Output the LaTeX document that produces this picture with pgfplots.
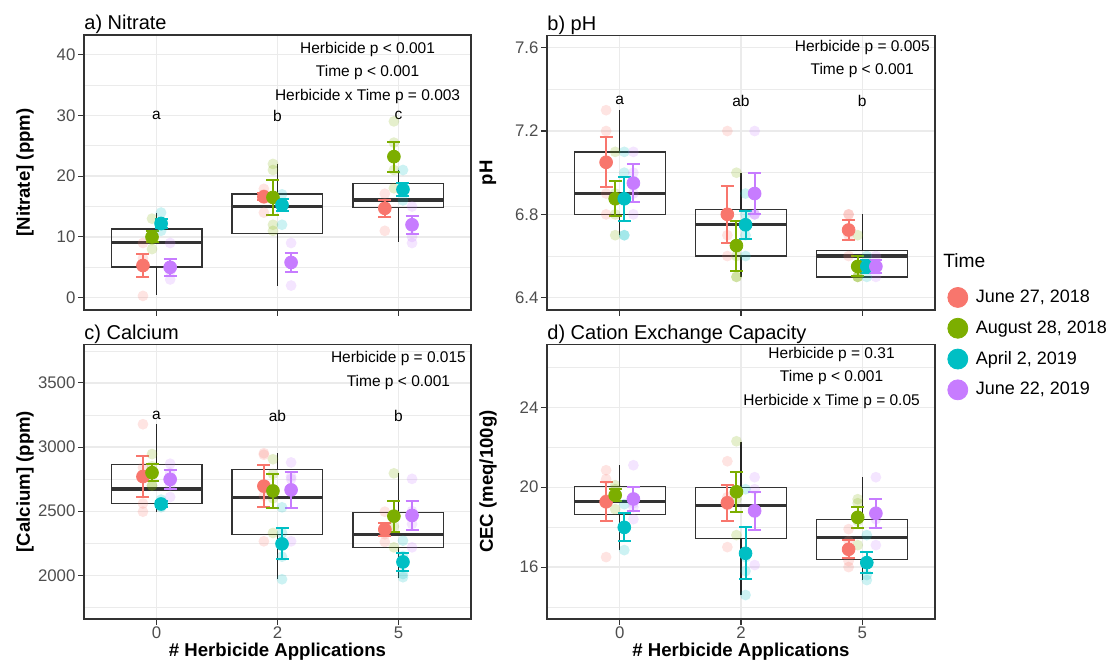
\documentclass[border=0pt]{standalone}
\usepackage{fontspec}
\setmainfont{Liberation Sans}
\usepackage{pgfplots}
\pgfplotsset{compat=1.18}
\definecolor{c1}{HTML}{F8766D}
\definecolor{c2}{HTML}{7CAE00}
\definecolor{c3}{HTML}{00BFC4}
\definecolor{c4}{HTML}{C77CFF}
\definecolor{gridc}{HTML}{EBEBEB}
\definecolor{g20}{HTML}{333333}
\definecolor{g30}{HTML}{4D4D4D}
\tikzset{ann/.style={font=\fontsize{7.75}{9}\selectfont, inner sep=0pt, anchor=center}}
\pgfplotsset{
  panel/.style={
    scale only axis, clip=false,
    xmin=0.4, xmax=3.6, xtick={1,2,3}, xticklabels={0,2,5},
    xtick pos=bottom, ytick pos=left, tick align=outside,
    major tick length=2.9pt, minor tick length=0pt,
    grid=both,
    major grid style={draw=gridc, line width=0.6pt},
    minor grid style={draw=gridc, line width=0.35pt},
    axis line style={draw=g20, line width=0.6pt},
    tick style={draw=g20, line width=0.55pt},
    /pgf/number format/assume math mode=true,
    /pgf/number format/1000 sep={},
    tick label style={font=\fontsize{8.4}{10}\selectfont, text=g30},
    yticklabel style={inner xsep=1.2pt},
    xticklabel style={yshift=2.6pt},
    ylabel style={font=\bfseries\fontsize{9.3}{11}\selectfont, at={(axis description cs:-0.152,0.5)}, anchor=center},
    xlabel style={font=\bfseries\fontsize{9.3}{11}\selectfont, at={(axis description cs:0.5,0)}, anchor=base, yshift=-18.6pt, inner sep=0pt},
    every axis title shift=0pt,
    title style={font=\fontsize{10}{12}\selectfont, at={(axis description cs:0,1)}, anchor=base west, yshift=2.6pt, inner sep=0pt},
    unbounded coords=jump,
  },
  bxs/.style={forget plot, draw=g20, line width=0.65pt, mark=none, line join=miter},
  med/.style={forget plot, draw=g20, line width=1.7pt, mark=none},
  wh/.style={forget plot, draw=black!85, line width=0.65pt, mark=none},
  faint/.style={forget plot, only marks, color=#1, mark=*, mark size=2.7pt,
    mark options={draw opacity=0, fill=#1, fill opacity=0.2, line width=0pt}},
  means/.style={forget plot, only marks, color=#1, mark=*, mark size=3.2pt,
    error bars/.cd, y dir=both, y explicit,
    error bar style={line width=1pt, color=#1},
    error mark options={rotate=90, line width=1pt, mark size=3.25pt, color=#1}},
  legimg/.style={only marks, mark=*, mark size=5pt, color=#1,
    legend image code/.code={\draw[mark repeat=2,mark phase=2,##1] plot coordinates {(0pt,0pt)(5.25pt,0pt)(10.5pt,0pt)};}},
}
\begin{document}
\begin{tikzpicture}
\path[use as bounding box] (0,0) rectangle (555pt,330.5pt);

% ---------------- a) Nitrate
\begin{axis}[panel, at={(42pt,175.5pt)}, anchor=south west, width=193.5pt, height=137.5pt,
  ymin=-2.02, ymax=43.2, ytick={0,10,20,30,40}, minor ytick={5,15,25,35},
  xticklabels={}, ylabel={[Nitrate] (ppm)}, title={a) Nitrate}]
\addplot[bxs] coordinates {(0.625,5.05) (1.375,5.05) (1.375,11.3) (0.625,11.3) (0.625,5.05) (1.375,5.05)};
\addplot[bxs] coordinates {(1.625,10.58) (2.375,10.58) (2.375,17.04) (1.625,17.04) (1.625,10.58) (2.375,10.58)};
\addplot[bxs] coordinates {(2.625,14.8) (3.375,14.8) (3.375,18.74) (2.625,18.74) (2.625,14.8) (3.375,14.8)};
\addplot[med] coordinates {(0.625,9.04) (1.375,9.04) (1.625,nan) (1.625,14.96) (2.375,14.96) (2.625,nan) (2.625,16.1) (3.375,16.1)};
\addplot[wh] coordinates {(1,11.3) (1,14.0) (1,nan) (1,5.05) (1,0.39) (2,nan) (2,17.04) (2,22.0) (2,nan) (2,10.58) (2,1.98) (3,nan) (3,18.74) (3,21.0) (3,nan) (3,14.8) (3,9.1)};
\addplot[faint=c1] coordinates {(0.8875,0.3) (0.8875,6.5) (0.8875,9.0) (1.8875,14.0) (1.8875,17.0) (1.8875,17.9) (2.8875,11.0) (2.8875,15.0) (2.8875,17.1)};
\addplot[faint=c2] coordinates {(0.9625,8.0) (0.9625,9.5) (0.9625,13.0) (1.9625,11.0) (1.9625,12.0) (1.9625,21.0) (1.9625,22.0) (2.9625,18.0) (2.9625,21.0) (2.9625,25.5) (2.9625,29.0)};
\addplot[faint=c3] coordinates {(1.0375,11.0) (1.0375,12.5) (1.0375,14.0) (2.0375,12.0) (2.0375,15.5) (2.0375,17.0) (3.0375,16.0) (3.0375,17.5) (3.0375,21.0)};
\addplot[faint=c4] coordinates {(1.1125,3.0) (1.1125,4.3) (1.1125,5.0) (1.1125,9.0) (2.1125,2.0) (2.1125,6.0) (2.1125,9.0) (3.1125,9.0) (3.1125,10.0) (3.1125,12.0) (3.1125,15.0)};
\addplot[means=c1] table[x=x, y=y, y error=e] {
x y e
0.8875 5.3 1.85
1.8875 16.6 0.6
2.8875 14.7 1.45
};
\addplot[means=c2] table[x=x, y=y, y error=e] {
x y e
0.9625 10.0 0.9
1.9625 16.5 2.9
2.9625 23.2 2.45
};
\addplot[means=c3] table[x=x, y=y, y error=e] {
x y e
1.0375 12.2 0.8
2.0375 15.25 1.05
3.0375 17.8 1.1
};
\addplot[means=c4] table[x=x, y=y, y error=e] {
x y e
1.1125 5.0 1.4
2.1125 5.8 1.5
3.1125 12.0 1.45
};
\node[ann] at (axis cs:2.745,40.8) {Herbicide p < 0.001};
\node[ann] at (axis cs:2.745,37.0) {Time p < 0.001};
\node[ann] at (axis cs:2.745,33.1) {Herbicide x Time p = 0.003};
\node[ann] at (axis cs:1,29.9) {a};
\node[ann] at (axis cs:2,29.9) {b};
\node[ann] at (axis cs:3,29.9) {c};
\end{axis}

% ---------------- b) pH
\begin{axis}[panel, at={(273.5pt,175.5pt)}, anchor=south west, width=194pt, height=137.2pt,
  ymin=6.341, ymax=7.658, ytick={6.4,6.8,7.2,7.6}, minor ytick={6.6,7.0,7.4},
  yticklabel style={/pgf/number format/.cd, fixed, fixed zerofill, precision=1},
  xticklabels={}, ylabel={pH}, title={b) pH}]
\addplot[bxs] coordinates {(0.625,6.8) (1.375,6.8) (1.375,7.1) (0.625,7.1) (0.625,6.8) (1.375,6.8)};
\addplot[bxs] coordinates {(1.625,6.6) (2.375,6.6) (2.375,6.825) (1.625,6.825) (1.625,6.6) (2.375,6.6)};
\addplot[bxs] coordinates {(2.625,6.5) (3.375,6.5) (3.375,6.625) (2.625,6.625) (2.625,6.5) (3.375,6.5)};
\addplot[med] coordinates {(0.625,6.9) (1.375,6.9) (1.625,nan) (1.625,6.75) (2.375,6.75) (2.625,nan) (2.625,6.6) (3.375,6.6)};
\addplot[wh] coordinates {(1,7.1) (1,7.3) (1,nan) (1,6.8) (1,6.7) (2,nan) (2,6.825) (2,7.0) (2,nan) (2,6.6) (2,6.5) (3,nan) (3,6.625) (3,6.8)};
\addplot[faint=c1] coordinates {(0.8875,7.3) (0.8875,7.2) (0.8875,6.9) (0.8875,6.8) (1.8875,7.2) (1.8875,6.7) (1.8875,6.6) (2.8875,6.8) (2.8875,6.8) (2.8875,6.6) (2.8875,6.7)};
\addplot[faint=c2] coordinates {(0.9625,7.1) (0.9625,6.7) (0.9625,6.9) (0.9625,6.8) (1.9625,7.0) (1.9625,6.5) (1.9625,6.6) (1.9625,6.5) (2.9625,6.7) (2.9625,6.5) (2.9625,6.5) (2.9625,6.5)};
\addplot[faint=c3] coordinates {(1.0375,7.1) (1.0375,7.0) (1.0375,6.7) (1.0375,6.7) (2.0375,6.9) (2.0375,6.6) (2.0375,6.8) (2.0375,6.7) (3.0375,6.6) (3.0375,6.5) (3.0375,6.55)};
\addplot[faint=c4] coordinates {(1.1125,7.1) (1.1125,6.8) (1.1125,6.9) (1.1125,7.0) (2.1125,7.2) (2.1125,6.8) (2.1125,6.8) (2.1125,6.8) (3.1125,6.6) (3.1125,6.5) (3.1125,6.55)};
\addplot[means=c1] table[x=x, y=y, y error=e] {
x y e
0.8875 7.05 0.12
1.8875 6.80 0.136
2.8875 6.725 0.048
};
\addplot[means=c2] table[x=x, y=y, y error=e] {
x y e
0.9625 6.875 0.085
1.9625 6.65 0.12
2.9625 6.55 0.048
};
\addplot[means=c3] table[x=x, y=y, y error=e] {
x y e
1.0375 6.875 0.105
2.0375 6.75 0.066
3.0375 6.55 0.03
};
\addplot[means=c4] table[x=x, y=y, y error=e] {
x y e
1.1125 6.95 0.09
2.1125 6.90 0.10
3.1125 6.55 0.03
};
\node[ann] at (axis cs:3.0,7.603) {Herbicide p = 0.005};
\node[ann] at (axis cs:3.0,7.49) {Time p < 0.001};
\node[ann] at (axis cs:1,7.346) {a};
\node[ann] at (axis cs:2,7.346) {ab};
\node[ann] at (axis cs:3,7.346) {b};
\end{axis}

% ---------------- c) Calcium
\begin{axis}[panel, at={(42pt,21pt)}, anchor=south west, width=193.5pt, height=137.4pt,
  ymin=1659, ymax=3802, ytick={2000,2500,3000,3500}, minor ytick={1750,2250,2750,3250,3750},
  ylabel={[Calcium] (ppm)}, xlabel={\# Herbicide Applications}, title={c) Calcium}]
\addplot[bxs] coordinates {(0.625,2558) (1.375,2558) (1.375,2866) (0.625,2866) (0.625,2558) (1.375,2558)};
\addplot[bxs] coordinates {(1.625,2320) (2.375,2320) (2.375,2827) (1.625,2827) (1.625,2320) (2.375,2320)};
\addplot[bxs] coordinates {(2.625,2218) (3.375,2218) (3.375,2488) (2.625,2488) (2.625,2218) (3.375,2218)};
\addplot[med] coordinates {(0.625,2673) (1.375,2673) (1.625,nan) (1.625,2606) (2.375,2606) (2.625,nan) (2.625,2317) (3.375,2317)};
\addplot[wh] coordinates {(1,2866) (1,3178) (1,nan) (1,2558) (1,2496) (2,nan) (2,2827) (2,2952) (2,nan) (2,2320) (2,1969) (3,nan) (3,2488) (3,2795) (3,nan) (3,2218) (3,1982)};
\addplot[faint=c1] coordinates {(0.8875,3178) (0.8875,2496) (0.8875,2560) (0.8875,2840) (1.8875,2952) (1.8875,2265) (1.8875,2620) (1.8875,2940) (2.8875,2496) (2.8875,2260) (2.8875,2320) (2.8875,2360)};
\addplot[faint=c2] coordinates {(0.9625,2945) (0.9625,2700) (0.9625,2850) (0.9625,2700) (1.9625,2905) (1.9625,2330) (1.9625,2790) (1.9625,2600) (2.9625,2795) (2.9625,2218) (2.9625,2450) (2.9625,2380)};
\addplot[faint=c3] coordinates {(1.0375,2590) (1.0375,2556) (1.0375,2530) (2.0375,2530) (2.0375,1969) (2.0375,2145) (2.0375,2330) (3.0375,2270) (3.0375,1985) (3.0375,2010) (3.0375,2150)};
\addplot[faint=c4] coordinates {(1.1125,2870) (1.1125,2610) (1.1125,2700) (1.1125,2800) (2.1125,2880) (2.1125,2265) (2.1125,2750) (2.1125,2770) (3.1125,2752) (3.1125,2218) (3.1125,2400) (3.1125,2500)};
\addplot[means=c1] table[x=x, y=y, y error=e] {
x y e
0.8875 2770 160
1.8875 2695 165
2.8875 2358 53
};
\addplot[means=c2] table[x=x, y=y, y error=e] {
x y e
0.9625 2800 65
1.9625 2658 130
2.9625 2461 121
};
\addplot[means=c3] table[x=x, y=y, y error=e] {
x y e
1.0375 2556 25
2.0375 2245 121
3.0375 2104 68
};
\addplot[means=c4] table[x=x, y=y, y error=e] {
x y e
1.1125 2748 75
2.1125 2666 138
3.1125 2467 113
};
\node[ann] at (axis cs:3.0,3687) {Herbicide p = 0.015};
\node[ann] at (axis cs:3.0,3505) {Time p < 0.001};
\node[ann] at (axis cs:1,3243) {a};
\node[ann] at (axis cs:2,3243) {ab};
\node[ann] at (axis cs:3,3243) {b};
\end{axis}

% ---------------- d) CEC
\begin{axis}[panel, at={(273.5pt,21pt)}, anchor=south west, width=194pt, height=137.4pt,
  ymin=13.4, ymax=27.16, ytick={16,20,24}, minor ytick={14,18,22,26},
  ylabel={CEC (meq/100g)}, xlabel={\# Herbicide Applications}, title={d) Cation Exchange Capacity},
  legend style={draw=none, fill=none, at={(1.032,1.208)}, anchor=north west,
    font=\fontsize{9}{10}\selectfont, inner sep=0pt, row sep=5.4pt, column sep=4pt,
    nodes={inner sep=0pt}},
  legend cell align=left]
\addplot[bxs] coordinates {(0.625,18.64) (1.375,18.64) (1.375,20.02) (0.625,20.02) (0.625,18.64) (1.375,18.64)};
\addplot[bxs] coordinates {(1.625,17.44) (2.375,17.44) (2.375,19.97) (1.625,19.97) (1.625,17.44) (2.375,17.44)};
\addplot[bxs] coordinates {(2.625,16.38) (3.375,16.38) (3.375,18.39) (2.625,18.39) (2.625,16.38) (3.375,16.38)};
\addplot[med] coordinates {(0.625,19.27) (1.375,19.27) (1.625,nan) (1.625,19.07) (2.375,19.07) (2.625,nan) (2.625,17.47) (3.375,17.47)};
\addplot[wh] coordinates {(1,20.02) (1,21.1) (1,nan) (1,18.64) (1,16.85) (2,nan) (2,19.97) (2,22.28) (2,nan) (2,17.44) (2,14.6) (3,nan) (3,18.39) (3,20.52) (3,nan) (3,16.38) (3,15.35)};
\addplot[faint=c1] coordinates {(0.8875,20.85) (0.8875,16.5) (0.8875,20.4) (0.8875,19.4) (1.8875,21.3) (1.8875,17.0) (1.8875,19.5) (1.8875,19.1) (2.8875,17.9) (2.8875,16.0) (2.8875,16.3) (2.8875,17.3)};
\addplot[faint=c2] coordinates {(0.9625,19.9) (0.9625,18.9) (0.9625,20.1) (0.9625,19.5) (1.9625,22.3) (1.9625,17.6) (1.9625,19.4) (1.9625,19.8) (2.9625,19.4) (2.9625,17.1) (2.9625,19.2) (2.9625,18.3)};
\addplot[faint=c3] coordinates {(1.0375,19.15) (1.0375,16.85) (1.0375,18.0) (1.0375,17.9) (2.0375,19.9) (2.0375,14.6) (2.0375,16.5) (2.0375,15.8) (3.0375,17.6) (3.0375,15.35) (3.0375,15.6) (3.0375,16.3)};
\addplot[faint=c4] coordinates {(1.1125,21.1) (1.1125,18.4) (1.1125,19.0) (1.1125,19.2) (2.1125,20.5) (2.1125,16.1) (2.1125,18.7) (2.1125,19.9) (3.1125,20.5) (3.1125,17.1) (3.1125,18.4) (3.1125,18.8)};
\addplot[means=c1] table[x=x, y=y, y error=e] {
x y e
0.8875 19.27 0.97
1.8875 19.22 0.9
2.8875 16.89 0.46
};
\addplot[means=c2] table[x=x, y=y, y error=e] {
x y e
0.9625 19.6 0.3
1.9625 19.77 1.0
2.9625 18.49 0.54
};
\addplot[means=c3] table[x=x, y=y, y error=e] {
x y e
1.0375 17.99 0.7
2.0375 16.69 1.3
3.0375 16.22 0.53
};
\addplot[means=c4] table[x=x, y=y, y error=e] {
x y e
1.1125 19.41 0.61
2.1125 18.82 0.94
3.1125 18.69 0.74
};
\node[ann] at (axis cs:2.747,26.66) {Herbicide p = 0.31};
\node[ann] at (axis cs:2.747,25.48) {Time p < 0.001};
\node[ann] at (axis cs:2.747,24.3) {Herbicide x Time p = 0.05};
\node[anchor=base west, inner sep=0pt, font=\fontsize{9.6}{11}\selectfont] at (axis description cs:1.0206,1.2803) {Time};
\addlegendimage{legimg=c1}
\addlegendentry{June 27, 2018}
\addlegendimage{legimg=c2}
\addlegendentry{August 28, 2018}
\addlegendimage{legimg=c3}
\addlegendentry{April 2, 2019}
\addlegendimage{legimg=c4}
\addlegendentry{June 22, 2019}
\end{axis}
\end{tikzpicture}
\end{document}
